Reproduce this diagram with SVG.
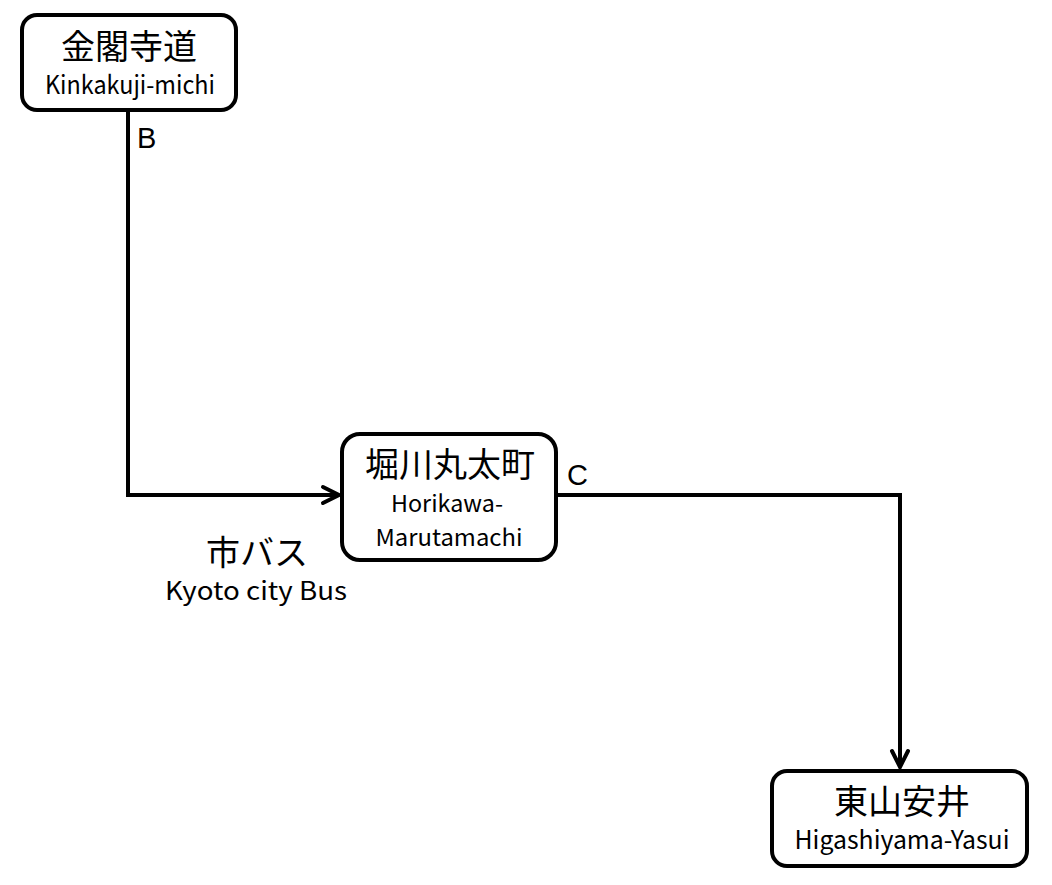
<svg xmlns="http://www.w3.org/2000/svg" width="1052" height="885" viewBox="0 0 1052 885">
<style>
.box{fill:#fff;stroke:#000;stroke-width:4}
.jp{font-family:"Noto Sans CJK JP","Noto Sans",sans-serif;font-size:34px;fill:#000;text-anchor:middle}
.en{font-family:"Noto Sans CJK JP","DejaVu Sans Mono",monospace;font-size:25px;fill:#000;text-anchor:middle}
.sm{font-size:23px}
.lbl{font-family:"Liberation Sans",Arial,sans-serif;font-size:29px;fill:#000}
.line{fill:none;stroke:#000;stroke-width:4}
.head{fill:none;stroke:#000;stroke-width:4;stroke-linecap:round;stroke-linejoin:miter}
</style>
<rect width="1052" height="885" fill="#fff"/>
<g id="connectors">
<polyline class="line" points="128,110 128,495 338,495"/>
<polyline class="head" points="323,487 339,495 323,503"/>
<polyline class="line" points="556,495 900,495 900,766"/>
<polyline class="head" points="892,751 900,767 908,751"/>
<text class="lbl" x="137" y="148">B</text>
<text class="lbl" x="567" y="485">C</text>
<text class="jp" x="257" y="565">市バス</text>
<text class="en" x="256" y="600" textLength="182" lengthAdjust="spacingAndGlyphs">Kyoto city Bus</text>
</g>
<g id="kinkakuji">
<rect class="box" x="22" y="15" width="214" height="95" rx="15"/>
<text class="jp" x="129" y="59">金閣寺道</text>
<text class="en" x="130" y="94" textLength="170" lengthAdjust="spacingAndGlyphs">Kinkakuji-michi</text>
</g>
<g id="horikawa">
<rect class="box" x="342" y="434" width="214" height="126" rx="18"/>
<text class="jp" x="450" y="477">堀川丸太町</text>
<text class="en sm" x="447" y="512" textLength="112" lengthAdjust="spacingAndGlyphs">Horikawa-</text>
<text class="en sm" x="449" y="546" textLength="147" lengthAdjust="spacingAndGlyphs">Marutamachi</text>
</g>
<g id="higashiyama">
<rect class="box" x="772" y="771" width="255" height="95" rx="15"/>
<text class="jp" x="902" y="814">東山安井</text>
<text class="en" x="902" y="849" textLength="215" lengthAdjust="spacingAndGlyphs">Higashiyama-Yasui</text>
</g>
</svg>
